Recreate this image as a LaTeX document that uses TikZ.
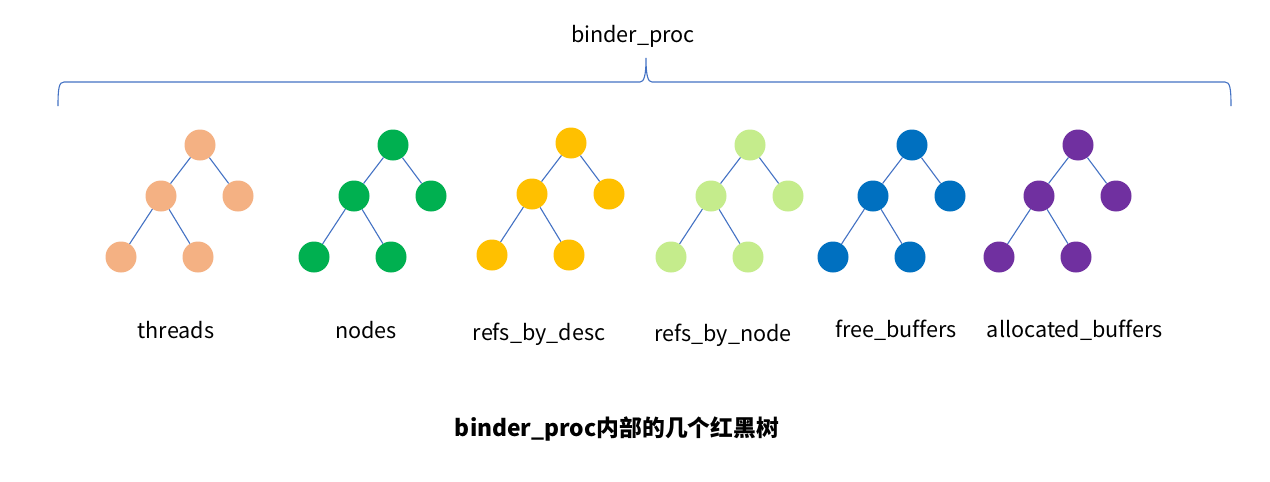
\documentclass[tikz,border=0pt]{standalone}
\usepackage{fontspec}
\setmainfont[Ligatures=NoCommon]{Noto Sans CJK SC}
\definecolor{cthreads}{HTML}{F4B183}
\definecolor{cnodes}{HTML}{00B050}
\definecolor{cdesc}{HTML}{FFC000}
\definecolor{cnode}{HTML}{C5EC8C}
\definecolor{cfree}{HTML}{0070C0}
\definecolor{calloc}{HTML}{7030A0}
\definecolor{edgeblue}{HTML}{4472C4}
\tikzset{
  rbnode/.style={circle, minimum size=31pt, inner sep=0pt, draw=none},
  rbedge/.style={draw=edgeblue, line width=1.1pt},
  lbl/.style={font=\fontsize{21.6}{26}\selectfont, inner sep=0pt, text=black},
}
\newcommand\rbtree[4]{% prefix, x of root, y of root, colour
  \node[rbnode, fill=#4] (#1r) at (#2,#3) {};
  \node[rbnode, fill=#4] (#1a) at (#2-39,#3+51) {};
  \node[rbnode, fill=#4] (#1b) at (#2+38,#3+51) {};
  \node[rbnode, fill=#4] (#1c) at (#2-79,#3+112) {};
  \node[rbnode, fill=#4] (#1d) at (#2-2,#3+112) {};
  \draw[rbedge] (#1r) -- (#1a);
  \draw[rbedge] (#1r) -- (#1b);
  \draw[rbedge] (#1a) -- (#1c);
  \draw[rbedge] (#1a) -- (#1d);
}
\begin{document}
\begin{tikzpicture}[x=1pt,y=-1pt]
\useasboundingbox[fill=white] (0,0) rectangle (1270,482);
\node[lbl] (top) at (633,36) {binder\_proc};
\coordinate (bl) at (58,106);
\coordinate (br) at (1231,106);
\coordinate (bm) at (646,58);
\draw[draw=edgeblue, line width=1.1pt] (bl) .. controls (58,88) and (59,82) .. (64,82)
  -- (640,82) .. controls (644,82) and (646,76) .. (bm)
  .. controls (646,76) and (648,82) .. (652,82) -- (1225,82)
  .. controls (1230,82) and (1231,88) .. (br);
\rbtree{t}{200}{145}{cthreads}
\rbtree{n}{393}{145}{cnodes}
\rbtree{d}{571}{143}{cdesc}
\rbtree{m}{750}{145}{cnode}
\rbtree{f}{912}{145}{cfree}
\rbtree{l}{1078}{145}{calloc}
\node[lbl] (l1) at (176,330) {threads};
\node[lbl] (l2) at (366,330) {nodes};
\node[lbl] (l3) at (539,334) {refs\_by\_desc};
\node[lbl] (l4) at (723,335) {refs\_by\_node};
\node[lbl] (l5) at (896,330) {free\_buffers};
\node[lbl] (l6) at (1075,330) {allocated\_buffers};
\node[font=\fontsize{22.8}{27}\selectfont\bfseries, inner sep=0pt] (title) at (617,429) {binder\_proc内部的几个红黑树};
\end{tikzpicture}
\end{document}
